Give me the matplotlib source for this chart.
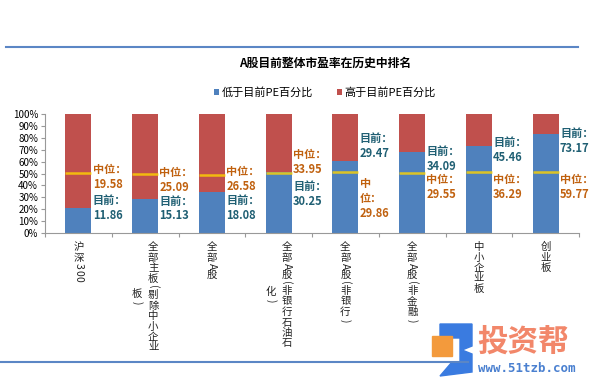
#!/usr/bin/env python3
"""
A股目前整体市盈率在历史中排名: stacked percentile bars with median marker and PE labels.
"""

import matplotlib
matplotlib.use("Agg")
import matplotlib.pyplot as plt
from matplotlib.lines import Line2D
from matplotlib.patches import Rectangle, Polygon
import numpy as np

# =============================================================================
# DATA
# =============================================================================

CATEGORIES = [
    ["沪深300"],
    ["全部主板(剔除中小企业", "板)"],
    ["全部A股"],
    ["全部A股(非银行石油石", "化)"],
    ["全部A股(非银行)"],
    ["全部A股(非金融)"],
    ["中小企业板"],
    ["创业板"],
]
BELOW_PCT = [21.0, 29.0, 34.5, 51.5, 61.0, 68.5, 73.5, 83.0]   # 低于目前PE百分比
MEDIAN_PCT = [50.8, 50.0, 49.2, 50.8, 51.0, 50.3, 51.0, 51.0]  # 中位 line position
MEDIAN_PE = ["19.58", "25.09", "26.58", "33.95", "29.86", "29.55", "36.29", "59.77"]
CURRENT_PE = ["11.86", "15.13", "18.08", "30.25", "29.47", "34.09", "45.46", "73.17"]

BLUE = "#4F81BD"
RED = "#C0504D"
MED_COLOR = "#C0610F"
CUR_COLOR = "#1F5F73"

plt.rcParams["font.family"] = ["Noto Sans CJK SC", "DejaVu Sans"]


def char_step(ch, fs):
    return fs * (0.62 if ord(ch) < 128 else 1.0)


def vertical_label(ax, x, cols, fs=7.5, top=6.5, gap=11.5):
    """Stack characters vertically; extra columns go to the left, centred on the first."""
    n = len(cols)
    first_len = sum(char_step(c, fs) for c in cols[0])
    for k, col in enumerate(cols):
        dx = ((n - 1) / 2 - k) * gap
        col_len = sum(char_step(c, fs) for c in col)
        y = top + (first_len - col_len) / 2
        for ch in col:
            ascii_ch = ord(ch) < 128
            step = char_step(ch, fs)
            ax.annotate(ch, xy=(x, 0), xycoords=ax.get_xaxis_transform(),
                        xytext=(dx, -(y + step / 2)), textcoords="offset points",
                        ha="center", va="center", rotation=270 if ascii_ch else 0,
                        fontsize=fs, color="#222222", annotation_clip=False)
            y += step


def main():
    fig = plt.figure(figsize=(6.0, 3.87), dpi=100)
    ax = fig.add_axes([0.075, 0.398, 0.89, 0.307])

    x = np.arange(len(BELOW_PCT))
    w = 0.39
    below = np.array(BELOW_PCT)
    ax.bar(x, below, w, color=BLUE, label="低于目前PE百分比", zorder=2)
    ax.bar(x, 100 - below, w, bottom=below, color=RED, label="高于目前PE百分比", zorder=2)
    ax.hlines(MEDIAN_PCT, x - w / 2, x + w / 2, color="#FFD400", alpha=0.8, lw=1.8, zorder=3)

    # text labels to the right of each bar
    tx = x + w / 2 + 0.02
    for i in range(len(x)):
        if i < 4:
            med_y = [47.5, 45.0, 45.8, 59.7][i]
            cur_y = [21.4, 20.6, 21.4, 32.4][i]
            med_txt = "中位：\n" + MEDIAN_PE[i]
        else:
            med_y = [28.6, 39.0, 39.0, 39.0][i - 4]
            cur_y = [73.0, 62.0, 70.0, 77.7][i - 4]
            med_txt = ("中\n位：\n" if i == 4 else "中位：\n") + MEDIAN_PE[i]
        ax.text(tx[i], med_y, med_txt, color=MED_COLOR, fontsize=8, fontweight="bold",
                va="center", ha="left", linespacing=1.2, zorder=4)
        ax.text(tx[i], cur_y, "目前：\n" + CURRENT_PE[i], color=CUR_COLOR, fontsize=8,
                fontweight="bold", va="center", ha="left", linespacing=1.2, zorder=4)

    ax.set_xlim(-0.5, len(x) - 0.5)
    ax.set_ylim(0, 100)
    ax.set_yticks(range(0, 101, 10))
    ax.set_yticklabels([f"{v}%" for v in range(0, 101, 10)], fontsize=7)
    ax.set_xticks(np.arange(-0.5, len(x)), minor=False)
    ax.set_xticklabels([])
    ax.tick_params(axis="x", length=3, color="#999999")
    ax.tick_params(axis="y", length=3, color="#999999", pad=2)
    for side in ("top", "right"):
        ax.spines[side].set_visible(False)
    for side in ("left", "bottom"):
        ax.spines[side].set_color("#999999")

    for i, cols in enumerate(CATEGORIES):
        vertical_label(ax, x[i], cols)

    fig.text(0.542, 0.837, "A股目前整体市盈率在历史中排名", ha="center", va="center",
             fontsize=8.5, fontweight="bold")
    fig.legend(loc="center", bbox_to_anchor=(0.542, 0.762), ncol=2, frameon=False,
               fontsize=8, handlelength=0.45, handleheight=0.45, handletextpad=0.2,
               columnspacing=2.2)

    # frame lines
    fig.add_artist(Line2D([0.01, 0.963], [1 - 47 / 387] * 2, color="#5B86C5", lw=1.5))
    fig.add_artist(Line2D([0.0, 0.78], [1 - 362 / 387] * 2, color="#5B86C5", lw=1.5))

    # watermark
    def px(xp, yp):
        return (xp / 600, 1 - yp / 387)
    fig.add_artist(Polygon([px(440, 324), px(472, 324), px(472, 346), px(462, 350),
                            px(472, 354), px(472, 372), px(440, 376), px(452, 362),
                            px(460, 362), px(460, 338), px(440, 338)],
                           closed=True, transform=fig.transFigure, color="#3A7BE0"))
    fig.add_artist(Rectangle(px(432, 356), 20 / 600, 20 / 387, transform=fig.transFigure,
                             color="#F39A3C"))
    fig.text(477 / 600, 1 - 342 / 387, "投资帮", fontsize=22, fontweight="bold",
             color="#F2876A", ha="left", va="center")
    fig.text(478 / 600, 1 - 369 / 387, "www.51tzb.com", fontsize=9, fontweight="bold",
             color="#4A80D0", ha="left", va="center", family="DejaVu Sans Mono")

    fig.savefig("out.png", dpi=100)


if __name__ == "__main__":
    main()
